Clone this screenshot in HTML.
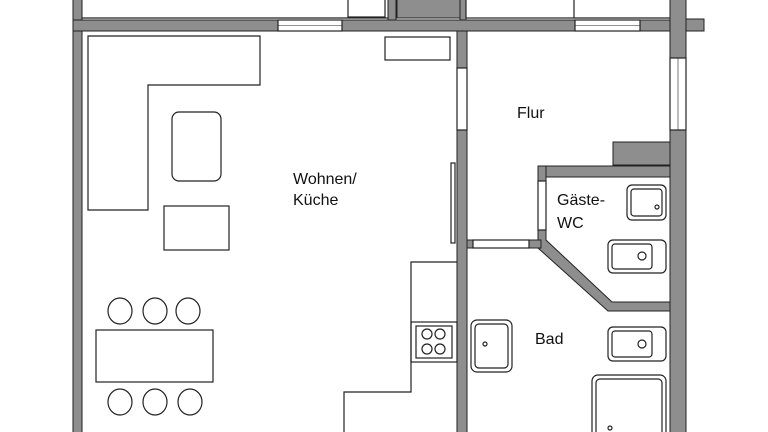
<!DOCTYPE html>
<html><head><style>body{margin:0;background:#fff}svg{display:block}text{font-family:"Liberation Sans",sans-serif;font-size:16px;fill:#111}</style></head><body>
<svg width="768" height="432" viewBox="0 0 768 432" xmlns="http://www.w3.org/2000/svg">
<rect width="768" height="432" fill="#fff"/>
<g fill="#8e8e8e" stroke="#222" stroke-width="1">
<!-- left wall -->
<rect x="73" y="-2" width="9" height="440"/>
<!-- top wall -->
<rect x="73" y="20" width="205" height="11"/>
<rect x="342" y="20" width="233" height="11"/>
<rect x="640" y="20" width="46" height="11"/>
<rect x="686" y="19" width="18" height="12"/>
<!-- top stubs -->
<rect x="388" y="-2" width="8" height="22"/>
<rect x="397" y="-2" width="63" height="20"/>
<rect x="460" y="-2" width="6" height="22"/>
<!-- right wall -->
<rect x="670" y="-2" width="16" height="60"/>
<rect x="670" y="130" width="16" height="310"/>
<!-- interior wall Wohnen/Flur -->
<rect x="457" y="31" width="10" height="37"/>
<rect x="457" y="130" width="10" height="310"/>
<!-- Flur block -->
<rect x="613" y="142" width="57" height="23"/>
<!-- WC walls -->
<rect x="538" y="166" width="132" height="11"/>
<rect x="538" y="166" width="8" height="15"/>
<path d="M538 230 L546 230 L546 240 L612 302 L670 302 L670 311 L608 311 L538 248 Z"/>
<rect x="467" y="240" width="6" height="8"/>
<rect x="529" y="240" width="12" height="8"/>
</g>
<g fill="none" stroke="#222" stroke-width="1.2">
<!-- windows -->
<rect x="278" y="20" width="64" height="11"/><line x1="278" y1="25.5" x2="342" y2="25.5" stroke-width="0.6"/>
<rect x="575" y="20" width="65" height="11"/><line x1="575" y1="25.5" x2="640" y2="25.5" stroke-width="0.6"/>
<rect x="670" y="58" width="16" height="72"/><line x1="678" y1="58" x2="678" y2="130" stroke-width="0.6"/>
<rect x="457" y="68" width="10" height="62"/>
<rect x="473" y="240" width="56" height="8"/>
<rect x="538" y="181" width="8" height="49"/>
<!-- top boxes -->
<line x1="82" y1="18" x2="388" y2="18"/>
<rect x="348" y="-2" width="37" height="19"/>
<rect x="466" y="-2" width="108" height="20"/>
<line x1="574" y1="18" x2="670" y2="18"/>
<!-- sliding door -->
<rect x="451" y="163" width="4" height="80"/>
<!-- kitchen counter L -->
<path d="M88 36 H260 V85 H148 V210 H88 Z"/>
<rect x="385" y="37" width="65" height="23"/>
<rect x="172" y="112" width="49" height="69" rx="7"/>
<rect x="164" y="206" width="65" height="44"/>
<path d="M457 262 H411 V392 H344 V440"/>
<rect x="411" y="322" width="46" height="40"/>
<rect x="416" y="326" width="36" height="32"/>
<circle cx="427" cy="334" r="5"/><circle cx="440" cy="334" r="5"/>
<circle cx="427" cy="349" r="5"/><circle cx="440" cy="349" r="5"/>
<!-- dining -->
<rect x="96" y="330" width="117" height="52"/>
<ellipse cx="120" cy="311" rx="12" ry="13"/><ellipse cx="155" cy="311" rx="12" ry="13"/><ellipse cx="188" cy="311" rx="12" ry="13"/>
<ellipse cx="120" cy="402" rx="12" ry="13"/><ellipse cx="155" cy="402" rx="12" ry="13"/><ellipse cx="190" cy="402" rx="12" ry="13"/>
<!-- WC fixtures -->
<rect x="627" y="185" width="39" height="35" rx="5"/><rect x="631" y="189" width="31" height="27" rx="3"/><circle cx="657" cy="207" r="2"/>
<rect x="608" y="240" width="58" height="33" rx="5"/><rect x="612" y="244" width="40" height="25" rx="3"/><circle cx="642" cy="256" r="4"/>
<!-- Bad fixtures -->
<rect x="471" y="320" width="41" height="52" rx="6"/><rect x="475" y="324" width="33" height="44" rx="4"/><circle cx="485" cy="344" r="2"/>
<rect x="608" y="327" width="58" height="34" rx="5"/><rect x="612" y="331" width="40" height="26" rx="3"/><circle cx="642" cy="344" r="4"/>
<rect x="592" y="375" width="74" height="65" rx="6"/><rect x="596" y="379" width="66" height="60" rx="4"/><circle cx="610" cy="428" r="2"/>
</g>
<text x="293" y="184">Wohnen/</text>
<text x="293" y="205">Küche</text>
<text x="517" y="118">Flur</text>
<text x="557" y="205">Gäste-</text>
<text x="557" y="228">WC</text>
<text x="535" y="344">Bad</text>
</svg>
</body></html>
